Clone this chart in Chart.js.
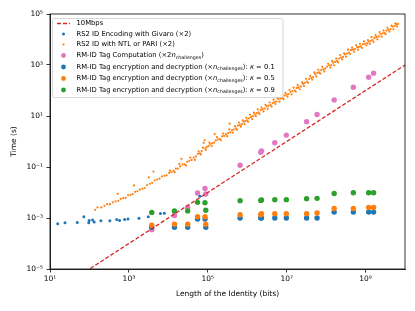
<!DOCTYPE html>
<html>
<head>
<meta charset="utf-8">
<script src="https://cdn.jsdelivr.net/npm/chart.js@4/dist/chart.umd.min.js"></script>
<style>
  html, body { margin: 0; padding: 0; background: #fff; }
  #wrap { width: 415px; height: 311px; }
</style>
</head>
<body>
<div id="wrap"><canvas id="timeChart" width="415" height="311"></canvas></div>
<script>
// 10 Mbps reference (time = bits / 1e7)
const rateBits = [1e1, 1e10];
const rateTime = [1e-6, 1e3];

// RS2 ID Encoding with Givaro (x2): [bits, seconds]
const givaroPoints = [
    [1.57e1, 6.0e-4], [2.4e1, 6.5e-4], [4.9e1, 6.6e-4], [7.2e1, 1.12e-3], [9.8e1, 7.9e-4],
    [9.6e1, 6.5e-4], [1.2e2, 8.3e-4], [1.32e2, 6.9e-4], [1.95e2, 7.8e-4], [3.3e2, 7.8e-4],
    [4.9e2, 8.7e-4], [5.8e2, 7.9e-4], [7.8e2, 8.7e-4], [9.5e2, 9.1e-4], [1.8e3, 9.8e-4],
    [3.1e3, 1.12e-3], [6.3e3, 1.5e-3], [7.9e3, 1.55e-3], [6.3e4, 7.1e-3]
];

// RS2 ID with NTL or PARI (x2): [bits, seconds]
const ntlPoints = [
    [1.4e2, 2.1e-3], [1.6e2, 2.6e-3], [2.0e2, 2.6e-3], [2.4e2, 3.0e-3], [2.8e2, 3.5e-3],
    [3.3e2, 3.5e-3], [3.9e2, 4.1e-3], [4.6e2, 4.5e-3], [5.2e2, 8.9e-3], [5.4e2, 4.7e-3],
    [6.2e2, 5.6e-3], [7.2e2, 6.0e-3], [8.3e2, 6.2e-3], [9.5e2, 7.8e-3],
    [1.1e3, 8.1e-3], [1.25e3, 8.7e-3], [1.35e3, 1.9e-2], [1.45e3, 1.07e-2], [1.65e3, 1.12e-2],
    [1.9e3, 1.3e-2], [2.2e3, 1.4e-2], [2.5e3, 1.5e-2], [2.9e3, 1.95e-2], [3.2e3, 3.9e-2],
    [3.4e3, 2.2e-2], [3.9e3, 2.4e-2], [4.2e3, 6.6e-2], [4.5e3, 2.95e-2], [5.2e3, 3.2e-2],
    [6.0e3, 3.5e-2], [6.9e3, 4.3e-2], [8.0e3, 4.5e-2], [9.1e3, 4.7e-2],
    [1.05e4, 5.9e-2], [1.1e4, 7.2e-2], [1.2e4, 6.2e-2], [1.35e4, 7.1e-2], [1.45e4, 6.3e-2],
    [1.55e4, 8.7e-2], [1.75e4, 8.7e-2], [1.9e4, 0.132], [2.0e4, 0.105], [2.15e4, 0.21],
    [2.3e4, 0.126], [2.6e4, 0.126], [2.8e4, 0.115], [3.0e4, 0.16], [3.4e4, 0.175],
    [3.6e4, 0.234], [3.9e4, 0.19], [4.4e4, 0.235], [4.7e4, 0.19], [5.0e4, 0.26],
    [5.6e4, 0.33], [5.9e4, 0.41], [6.3e4, 0.34], [6.7e4, 0.31], [7.0e4, 0.42],
    [7.5e4, 0.575], [7.9e4, 0.89], [8.3e4, 1.12], [8.6e4, 0.54], [9.0e4, 0.47], [9.5e4, 0.62],
    [1.05e5, 0.66], [1.1e5, 0.91], [1.15e5, 0.79], [1.25e5, 0.66], [1.3e5, 0.85],
    [1.45e5, 0.91], [1.5e5, 1.95], [1.6e5, 1.1], [1.7e5, 1.48], [1.8e5, 1.2],
    [2.0e5, 1.26], [2.15e5, 1.12], [2.3e5, 1.6], [2.45e5, 2.04], [2.6e5, 1.65],
    [2.9e5, 1.95], [3.1e5, 1.62], [3.3e5, 2.15], [3.5e5, 3.0], [3.6e5, 5.0],
    [3.7e5, 2.3], [4.1e5, 2.75], [4.3e5, 2.2], [4.6e5, 2.95], [4.9e5, 4.0],
    [5.2e5, 3.3], [5.5e5, 2.9], [5.8e5, 4.2], [6.2e5, 5.5], [6.5e5, 4.4],
    [6.9e5, 3.8], [7.3e5, 4.8], [7.7e5, 6.8], [8.1e5, 5.9], [8.6e5, 4.8],
    [9.0e5, 6.3], [9.5e5, 8.5],
    [1.0e6, 6.8], [1.05e6, 5.9], [1.1e6, 8.1], [1.18e6, 11.2], [1.25e6, 9.1],
    [1.33e6, 7.6], [1.4e6, 9.8], [1.48e6, 13.5], [1.55e6, 11.7], [1.65e6, 9.8],
    [1.75e6, 12.9], [1.85e6, 18.2], [1.95e6, 13.8], [2.05e6, 12.0], [2.2e6, 17],
    [2.3e6, 21.4], [2.45e6, 18.2], [2.6e6, 15.1], [2.75e6, 19.5], [2.9e6, 27.5],
    [3.1e6, 24], [3.3e6, 19.1], [3.45e6, 25], [3.7e6, 33.9], [3.9e6, 27],
    [4.15e6, 23.4], [4.4e6, 32], [4.65e6, 43.7], [4.9e6, 35], [5.2e6, 29.5],
    [5.5e6, 37], [5.8e6, 51], [6.2e6, 46], [6.6e6, 36.3], [7.0e6, 49],
    [7.4e6, 67.6], [7.8e6, 51], [8.3e6, 45.7], [8.8e6, 63], [9.3e6, 81], [9.8e6, 68],
    [1.05e7, 57.5], [1.1e7, 72], [1.18e7, 107], [1.25e7, 89], [1.33e7, 70.8],
    [1.4e7, 95], [1.5e7, 129], [1.6e7, 100], [1.7e7, 91], [1.8e7, 126],
    [1.9e7, 166], [2.0e7, 132], [2.15e7, 112], [2.3e7, 145], [2.45e7, 209],
    [2.6e7, 186], [2.75e7, 151], [2.9e7, 200], [3.1e7, 288], [3.3e7, 224],
    [3.5e7, 200], [3.7e7, 282], [3.95e7, 372], [4.2e7, 309], [4.45e7, 269],
    [4.7e7, 339], [5.0e7, 513], [5.3e7, 437], [5.65e7, 355], [6.0e7, 490],
    [6.35e7, 646], [6.7e7, 513], [7.1e7, 457], [7.5e7, 631], [8.0e7, 851],
    [8.5e7, 676], [9.0e7, 562], [9.5e7, 724],
    [1.05e8, 871], [1.12e8, 1120], [1.2e8, 955], [1.28e8, 794], [1.35e8, 1000],
    [1.42e8, 1450], [1.5e8, 1230], [1.6e8, 977], [1.7e8, 1320], [1.8e8, 1780],
    [1.9e8, 1450], [2.0e8, 1260], [2.15e8, 1780], [2.27e8, 2450], [2.4e8, 1950],
    [2.55e8, 1660], [2.7e8, 2090], [2.85e8, 2880], [3.0e8, 2630], [3.2e8, 2140],
    [3.4e8, 2820], [3.6e8, 3980], [3.8e8, 3090], [4.05e8, 2750], [4.3e8, 3800],
    [4.55e8, 4790], [4.8e8, 3980], [5.1e8, 3310], [5.4e8, 4170], [5.75e8, 6030],
    [6.1e8, 5010], [6.45e8, 3980], [6.8e8, 5130], [7.2e8, 6760], [7.6e8, 5370],
    [8.1e8, 4680], [8.6e8, 6460], [9.1e8, 8510], [9.6e8, 6760],
    [1.05e9, 5890], [1.1e9, 7080], [1.15e9, 9550], [1.2e9, 8320], [1.28e9, 6760],
    [1.35e9, 8910], [1.42e9, 12300], [1.5e9, 9550], [1.6e9, 8130], [1.7e9, 11500],
    [1.8e9, 14800], [1.9e9, 12300], [2.0e9, 10200], [2.15e9, 13200], [2.27e9, 19500],
    [2.4e9, 16200], [2.55e9, 12900], [2.7e9, 17400], [2.85e9, 22400], [3.0e9, 18200],
    [3.2e9, 16200], [3.4e9, 22400], [3.6e9, 28800], [3.8e9, 24000], [4.05e9, 20400],
    [4.3e9, 25700], [4.55e9, 34700], [4.8e9, 31600], [5.1e9, 25100], [5.4e9, 33900],
    [5.7e9, 42700], [6.0e9, 38900], [6.3e9, 32400], [6.6e9, 40700]
];

// RM-ID measurements, all at the same identity lengths (bits)
const rmBits = [3.8e3, 1.43e4, 3.1e4, 5.5e4, 8.5e4, 8.9e4, 6.6e5, 2.2e6, 2.3e6, 5.0e6,
                9.8e6, 3.2e7, 5.9e7, 1.6e8, 4.9e8, 1.2e9, 1.6e9];
const tagComputeTime = [3.5e-4, 1.26e-3, 2.6e-3, 9.5e-3, 1.45e-2, 8.7e-3, 0.117, 0.38, 0.43, 0.89,
                        1.78, 6.0, 11.5, 42.7, 135, 331, 479];
const encK01Time = [4.3e-4, 4.3e-4, 4.3e-4, 9.1e-4, 9.1e-4, 4.3e-4, 1.0e-3, 1.0e-3, 1.0e-3, 1.0e-3,
                    1.0e-3, 1.0e-3, 1.0e-3, 1.7e-3, 1.7e-3, 1.7e-3, 1.7e-3];
const encK05Time = [5.2e-4, 5.75e-4, 5.75e-4, 1.12e-3, 1.12e-3, 5.75e-4, 1.35e-3, 1.35e-3, 1.48e-3, 1.48e-3,
                    1.48e-3, 1.48e-3, 1.58e-3, 2.35e-3, 2.35e-3, 2.6e-3, 2.6e-3];
const encK09Time = [1.66e-3, 1.9e-3, 1.9e-3, 4.1e-3, 4.0e-3, 2.0e-3, 4.8e-3, 4.9e-3, 5.1e-3, 5.25e-3,
                    5.25e-3, 5.75e-3, 5.9e-3, 9.1e-3, 9.8e-3, 9.8e-3, 9.8e-3];

const xTickValues = [1e1, 1e3, 1e5, 1e7, 1e9];
const yTickValues = [1e-5, 1e-3, 1e-1, 1e1, 1e3, 1e5];

const FONT = "'DejaVu Sans', sans-serif";
const C_BLUE = "#1f77b4", C_ORANGE = "#ff7f0e", C_GREEN = "#2ca02c",
      C_RED = "#d62728", C_PINK = "#e377c2";

const SUP = { "0": "⁰", "1": "¹", "2": "²", "3": "³", "4": "⁴", "5": "⁵",
              "6": "⁶", "7": "⁷", "8": "⁸", "9": "⁹", "-": "⁻" };
function powLabel(v) {
    const e = String(Math.round(Math.log10(v)));
    return "10" + e.split("").map(c => SUP[c]).join("");
}

function pairs(list) {
    return list.map(p => ({ x: p[0], y: p[1] }));
}
function zip(xs, ys) {
    return xs.map((x, i) => ({ x: x, y: ys[i] }));
}

function scatterSet(label, data, color, radius, order) {
    return {
        label: label,
        data: data,
        backgroundColor: color,
        borderWidth: 0,
        pointRadius: radius,
        pointHoverRadius: radius,
        order: order
    };
}

// legend rows, parts: [text, style] with style "n" normal, "i" italic, "s" subscript
const legendRows = [
    { kind: "line", color: C_RED, parts: [["10Mbps", "n"]] },
    { kind: "dot", color: C_BLUE, r: 1.5, parts: [["RS2 ID Encoding with Givaro (×2)", "n"]] },
    { kind: "dot", color: C_ORANGE, r: 1.1, parts: [["RS2 ID with NTL or PARI (×2)", "n"]] },
    { kind: "dot", color: C_PINK, r: 2.4, parts: [["RM-ID Tag Computation (×2", "n"], ["n", "i"], ["challenges", "s"], [")", "n"]] },
    { kind: "dot", color: C_BLUE, r: 2.4, parts: [["RM-ID Tag encryption and decryption (×", "n"], ["n", "i"], ["challenges", "s"], ["): ", "n"], ["κ", "i"], [" = 0.1", "n"]] },
    { kind: "dot", color: C_ORANGE, r: 2.4, parts: [["RM-ID Tag encryption and decryption (×", "n"], ["n", "i"], ["challenges", "s"], ["): ", "n"], ["κ", "i"], [" = 0.5", "n"]] },
    { kind: "dot", color: C_GREEN, r: 2.4, parts: [["RM-ID Tag encryption and decryption (×", "n"], ["n", "i"], ["challenges", "s"], ["): ", "n"], ["κ", "i"], [" = 0.9", "n"]] }
];
const legendRowY = [23.5, 34, 44.5, 55.5, 67, 78.5, 90];

function drawLegend(ctx) {
    const x0 = 52.5, y0 = 18.5, w = 230.5, h = 79, r = 2;
    ctx.save();
    ctx.beginPath();
    ctx.moveTo(x0 + r, y0);
    ctx.arcTo(x0 + w, y0, x0 + w, y0 + h, r);
    ctx.arcTo(x0 + w, y0 + h, x0, y0 + h, r);
    ctx.arcTo(x0, y0 + h, x0, y0, r);
    ctx.arcTo(x0, y0, x0 + w, y0, r);
    ctx.closePath();
    ctx.fillStyle = "rgba(255,255,255,0.8)";
    ctx.fill();
    ctx.strokeStyle = "#cccccc";
    ctx.lineWidth = 0.8;
    ctx.stroke();

    const fs = 6.8;
    legendRows.forEach((row, i) => {
        const y = legendRowY[i];
        if (row.kind === "line") {
            ctx.strokeStyle = row.color;
            ctx.lineWidth = 1.3;
            ctx.setLineDash([4, 2]);
            ctx.beginPath();
            ctx.moveTo(57, y);
            ctx.lineTo(70, y);
            ctx.stroke();
            ctx.setLineDash([]);
        } else {
            ctx.fillStyle = row.color;
            ctx.beginPath();
            ctx.arc(63.5, y, row.r, 0, Math.PI * 2);
            ctx.fill();
        }
        let x = 76.5;
        ctx.fillStyle = "#000";
        ctx.textBaseline = "middle";
        ctx.textAlign = "left";
        row.parts.forEach(([t, st]) => {
            let dy = 0;
            if (st === "i") ctx.font = "italic " + fs + "px " + FONT;
            else if (st === "s") { ctx.font = (fs * 0.7) + "px " + FONT; dy = 1.8; }
            else ctx.font = fs + "px " + FONT;
            ctx.fillText(t, x, y + dy);
            x += ctx.measureText(t).width;
        });
    });
    ctx.restore();
}

const framePlugin = {
    id: "frameAndLegend",
    beforeDraw(chart) {
        const ctx = chart.ctx;
        ctx.save();
        ctx.fillStyle = "#fff";
        ctx.fillRect(0, 0, chart.width, chart.height);
        ctx.restore();
    },
    afterDraw(chart) {
        const ctx = chart.ctx;
        const a = chart.chartArea;
        ctx.save();
        ctx.strokeStyle = "#000";
        ctx.lineWidth = 0.8;
        ctx.strokeRect(a.left, a.top, a.right - a.left, a.bottom - a.top);
        ctx.restore();
        drawLegend(ctx);
    }
};

function axisOpts(min, max, tickValues, title, titlePad, width, height) {
    return {
        type: "logarithmic",
        min: min,
        max: max,
        afterBuildTicks: scale => {
            scale.ticks = tickValues.map(v => ({ value: v }));
        },
        afterFit: scale => {
            if (width) scale.width = width;
            if (height) scale.height = height;
        },
        ticks: {
            callback: v => powLabel(v),
            autoSkip: false,
            maxRotation: 0,
            color: "#000",
            padding: width ? 3.5 : 2,
            font: { family: FONT, size: 7.5 }
        },
        grid: {
            display: true,
            drawOnChartArea: false,
            drawTicks: true,
            tickLength: 3.5,
            tickWidth: 0.8,
            tickColor: "#000",
            color: "#000"
        },
        border: { display: true, color: "#000", width: 0.8 },
        title: {
            display: true,
            text: title,
            color: "#000",
            font: { family: FONT, size: 7.5 },
            padding: titlePad
        }
    };
}

const ctx = document.getElementById("timeChart").getContext("2d");

new Chart(ctx, {
    type: "scatter",
    data: {
        datasets: [
            {
                type: "line",
                label: "10Mbps",
                data: zip(rateBits, rateTime),
                borderColor: C_RED,
                borderWidth: 1.3,
                borderDash: [4, 2],
                pointRadius: 0,
                showLine: true,
                fill: false,
                order: 0
            },
            scatterSet("RS2 ID with NTL or PARI (×2)", pairs(ntlPoints), C_ORANGE, 1.1, 1),
            scatterSet("RS2 ID Encoding with Givaro (×2)", pairs(givaroPoints), C_BLUE, 1.5, 2),
            scatterSet("κ = 0.9", zip(rmBits, encK09Time), C_GREEN, 2.7, 3),
            scatterSet("κ = 0.5", zip(rmBits, encK05Time), C_ORANGE, 2.7, 4),
            scatterSet("κ = 0.1", zip(rmBits, encK01Time), C_BLUE, 2.7, 5),
            scatterSet("RM-ID Tag Computation", zip(rmBits, tagComputeTime), C_PINK, 2.7, 6)
        ]
    },
    options: {
        responsive: false,
        devicePixelRatio: 1,
        animation: false,
        layout: { padding: { top: 14, right: 10, left: 0, bottom: 0 } },
        plugins: {
            legend: { display: false },
            tooltip: { enabled: false }
        },
        scales: {
            x: axisOpts(1e1, 1e10, xTickValues, "Length of the Identity (bits)",
                        { top: 0, bottom: 12.5 }, 0, 42),
            y: axisOpts(1e-5, 1e5, yTickValues, "Time (s)",
                        { top: 9.5, bottom: 0 }, 50, 0)
        }
    },
    plugins: [framePlugin]
});
</script>
</body>
</html>
